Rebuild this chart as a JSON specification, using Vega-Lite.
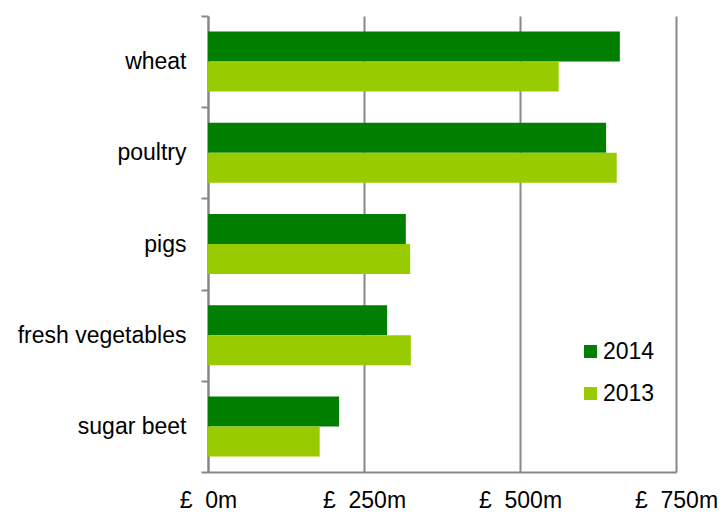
{
  "$schema": "https://vega.github.io/schema/vega-lite/v6.json",
  "width": 468,
  "height": 456,
  "autosize": "none",
  "padding": {"left": 208, "top": 16, "right": 45, "bottom": 40},
  "background": "white",
  "config": {
    "view": {"stroke": null},
    "font": "Liberation Sans"
  },
  "data": {
    "values": [
      {"product": "wheat", "year": "2014", "value": 660},
      {"product": "wheat", "year": "2013", "value": 562},
      {"product": "poultry", "year": "2014", "value": 638},
      {"product": "poultry", "year": "2013", "value": 655},
      {"product": "pigs", "year": "2014", "value": 317},
      {"product": "pigs", "year": "2013", "value": 324},
      {"product": "fresh vegetables", "year": "2014", "value": 287},
      {"product": "fresh vegetables", "year": "2013", "value": 325},
      {"product": "sugar beet", "year": "2014", "value": 210},
      {"product": "sugar beet", "year": "2013", "value": 179}
    ]
  },
  "mark": {"type": "bar"},
  "encoding": {
    "y": {
      "field": "product",
      "type": "nominal",
      "sort": ["wheat", "poultry", "pigs", "fresh vegetables", "sugar beet"],
      "scale": {"paddingInner": 0, "paddingOuter": 0},
      "axis": {
        "title": null,
        "tickBand": "extent",
        "domainColor": "#888888",
        "domainWidth": 2,
        "tickColor": "#888888",
        "tickWidth": 2,
        "tickSize": 7,
        "labelFontSize": 23,
        "labelColor": "#000000",
        "labelPadding": 15,
        "grid": false
      }
    },
    "yOffset": {
      "field": "year",
      "type": "nominal",
      "sort": ["2014", "2013"],
      "scale": {"paddingInner": 0, "paddingOuter": 0.52}
    },
    "x": {
      "field": "value",
      "type": "quantitative",
      "scale": {"domain": [0, 750], "nice": false},
      "axis": {
        "title": null,
        "values": [0, 250, 500, 750],
        "labelExpr": "'£\u00a0\u00a0' + datum.value + 'm'",
        "labelFontSize": 23,
        "labelColor": "#000000",
        "labelPadding": 17,
        "tickSize": 0,
        "domainColor": "#888888",
        "domainWidth": 2,
        "grid": true,
        "gridColor": "#888888",
        "gridWidth": 2,
        "labelFlush": false
      }
    },
    "color": {
      "field": "year",
      "type": "nominal",
      "scale": {"domain": ["2014", "2013"], "range": ["#007f00", "#99cc00"]},
      "legend": {
        "title": null,
        "orient": "none",
        "legendX": 371,
        "legendY": 324,
        "symbolType": "square",
        "symbolSize": 169,
        "symbolStrokeWidth": 0,
        "labelFontSize": 23,
        "labelColor": "#000000",
        "rowPadding": 18,
        "labelOffset": 1,
        "padding": 0
      }
    }
  }
}
